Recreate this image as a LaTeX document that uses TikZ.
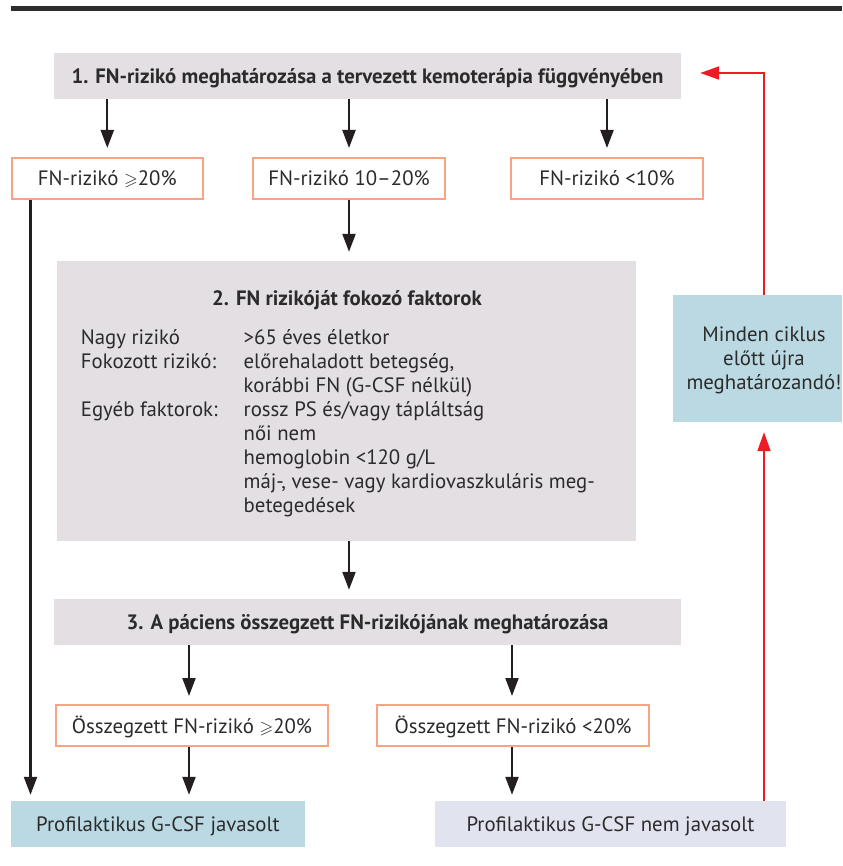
\documentclass[tikz,border=0pt]{standalone}
\usepackage{amssymb}
\usepackage{fontspec}
\setmainfont{PT Sans}
\usetikzlibrary{arrows.meta}
\definecolor{boxgray}{HTML}{E3DFE3}
\definecolor{boxblue}{HTML}{BAD9E2}
\definecolor{boxlav}{HTML}{E1E4EF}
\definecolor{boxorange}{HTML}{F7A384}
\definecolor{arrred}{HTML}{ED1C24}
\definecolor{arrdark}{HTML}{231F20}
\definecolor{txt}{HTML}{2B2B2B}
\definecolor{rulecol}{HTML}{2D2D2D}
\newcommand{\mygeq}{\scalebox{0.85}{$\geqslant$}}
\begin{document}
\begin{tikzpicture}[x=1pt,y=1pt,
  font=\fontsize{20.8}{24}\selectfont,
  every node/.style={text=txt},
  fillbox/.style={draw=none, inner sep=0pt, text height=15pt, text depth=0pt},
  graybox/.style={fillbox, fill=boxgray},
  obox/.style={draw=boxorange, line width=2pt, fill=white, inner sep=0pt, text height=15pt, text depth=0pt, minimum height=41pt},
  arr/.style={-{Triangle[length=18pt,width=13pt]}, line width=2.2pt, draw=arrdark},
  redarr/.style={-{Triangle[length=19pt,width=13pt]}, line width=2pt, draw=arrred},
]
\useasboundingbox (0,0) rectangle (842,-866);
\fill[white] (0,0) rectangle (842,-866);
% top rule
\draw[line width=5pt, draw=rulecol] (11,-8.5) -- (842,-8.5);

% step 1
\node[graybox, minimum width=627pt, minimum height=46pt] (b1) at (367.5,-76) {\textbf{1. FN-rizikó meghatározása a tervezett kemoterápia függvényében}};

% risk boxes
\node[obox, minimum width=191pt] (f1) at (107.3,-178.5) {FN-rizikó \mygeq20\%};
\node[obox, minimum width=192pt] (f2) at (349,-178.5) {FN-rizikó 10–20\%};
\node[obox, minimum width=192pt] (f3) at (607,-178.5) {FN-rizikó <10\%};

% step 2
\node[fill=boxgray, inner sep=0pt, minimum width=579pt, minimum height=280pt] (b2) at (346.5,-401) {};
\node[anchor=base, inner sep=0pt] (b2t) at (347,-305) {\textbf{2. FN rizikóját fokozó faktorok}};
\node[anchor=base west, inner sep=0pt] (b2l) at (80.7,-344) {%
\begin{tabular}[t]{@{}p{162.8pt}@{}l@{}}
Nagy rizikó & >65 éves életkor\\
Fokozott rizikó: & előrehaladott betegség,\\
 & korábbi FN (G-CSF nélkül)\\
Egyéb faktorok: & rossz PS és/vagy tápláltság\\
 & női nem\\
 & hemoglobin <120 g/L\\
 & máj-, vese- vagy kardiovaszkuláris meg-\\
 & betegedések
\end{tabular}};

% step 3
\node[graybox, minimum width=627pt, minimum height=46pt] (b3) at (367.5,-622) {\textbf{3. A páciens összegzett FN-rizikójának meghatározása}};

\node[obox, minimum width=272pt] (s1) at (192,-725.5) {Összegzett FN-rizikó \mygeq20\%};
\node[obox, minimum width=272pt] (s2) at (513,-725.5) {Összegzett FN-rizikó <20\%};

% results
\node[fillbox, fill=boxblue, minimum width=294pt, minimum height=46pt] (p1) at (158,-824) {Profilaktikus G-CSF javasolt};
\node[fillbox, fill=boxlav, minimum width=351pt, minimum height=46pt] (p2) at (610.5,-824) {Profilaktikus G-CSF nem javasolt};

% cycle box
\node[fill=boxblue, inner sep=0pt, minimum width=169pt, minimum height=127pt] (cyc) at (757.5,-358.5) {};
\node[align=center, inner sep=0pt] (cyct) at (764,-360) {Minden ciklus\\előtt újra\\meghatározandó!};

% arrows
\coordinate (lx) at (30.5,0);
\coordinate (ax1) at (189,0);
\coordinate (ax2) at (512,0);
\coordinate (rt) at (764,-73);
\draw[arr, shorten >=9pt] (b1.south -| f1.north) -- (f1.north);
\draw[arr, shorten >=9pt] (b1.south -| f2.north) -- (f2.north);
\draw[arr, shorten >=9pt] (b1.south -| f3.north) -- (f3.north);
\draw[arr, shorten >=9pt] (f2.south) -- (b2.north -| f2.south);
\draw[arr, shorten >=9pt] (b2.south -| f2.south) -- (b3.north -| f2.south);
\draw[arr, shorten >=8pt] (b3.south -| ax1) -- (s1.north -| ax1);
\draw[arr, shorten >=8pt] (b3.south -| ax2) -- (s2.north -| ax2);
\draw[arr, shorten >=6pt] (s1.south -| ax1) -- (p1.north -| ax1);
\draw[arr, shorten >=6pt] (s2.south -| ax2) -- (p2.north -| ax2);
\draw[arr, shorten >=6pt] (f1.south -| lx) -- (p1.north -| lx);
\draw[redarr, shorten >=10pt] (p2.north -| cyct) -- (cyc.south -| cyct);
\draw[redarr, shorten >=19pt] (cyc.north -| cyct) -- (rt) -- (b1.east |- rt);
\end{tikzpicture}
\end{document}
